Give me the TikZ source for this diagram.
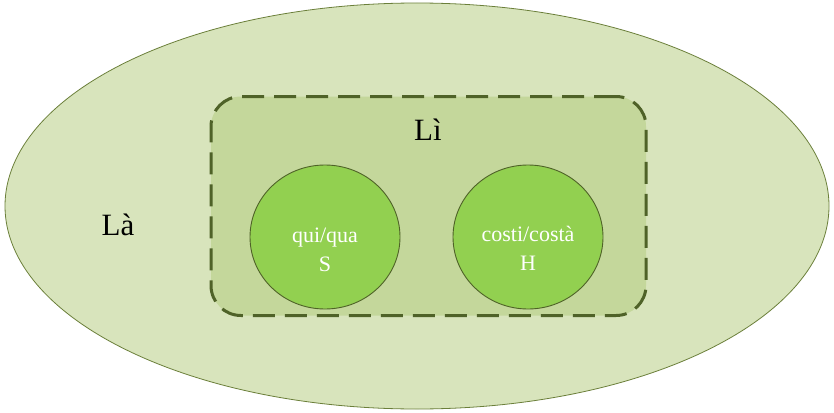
\documentclass[tikz,border=0pt]{standalone}
\usepackage{fontspec}
\setmainfont{Liberation Serif}
\usetikzlibrary{shapes.geometric}
\definecolor{outerfill}{HTML}{D8E4BC}
\definecolor{outerline}{HTML}{6B7F3A}
\definecolor{midfill}{HTML}{C4D79B}
\definecolor{midline}{HTML}{4F6228}
\definecolor{innerfill}{HTML}{92D050}
\tikzset{
  outer/.style={ellipse, draw=outerline, fill=outerfill, line width=0.8pt, minimum width=824pt, minimum height=406pt, inner sep=0pt},
  mid/.style={rectangle, rounded corners=30pt, draw=midline, fill=midfill, line width=3pt, dash pattern=on 22pt off 10pt, minimum width=435pt, minimum height=219pt, inner sep=0pt},
  inner/.style={ellipse, draw=midline, fill=innerfill, line width=0.9pt, minimum width=150pt, minimum height=144pt, inner sep=0pt},
  bigtxt/.style={font=\fontsize{31}{34}\selectfont, text=black},
  smalltxt/.style={font=\fontsize{22}{29}\selectfont, text=white, align=center}
}
\begin{document}
\begin{tikzpicture}[x=1pt,y=-1pt]
\useasboundingbox (0,0) rectangle (834,412);
\node[outer] (la) at (417,206) {};
\node[mid] (li) at (428.5,206) {};
\node[inner] (s) at (325,237) {};
\node[inner] (h) at (528,237) {};
\node[bigtxt] (latxt) at (118,225) {Là};
\node[bigtxt] (litxt) at (428,130) {Lì};
\node[smalltxt] (stxt) at (325,250) {qui/qua\\S};
\node[smalltxt] (htxt) at (528,248) {costi/costà\\H};
\end{tikzpicture}
\end{document}
